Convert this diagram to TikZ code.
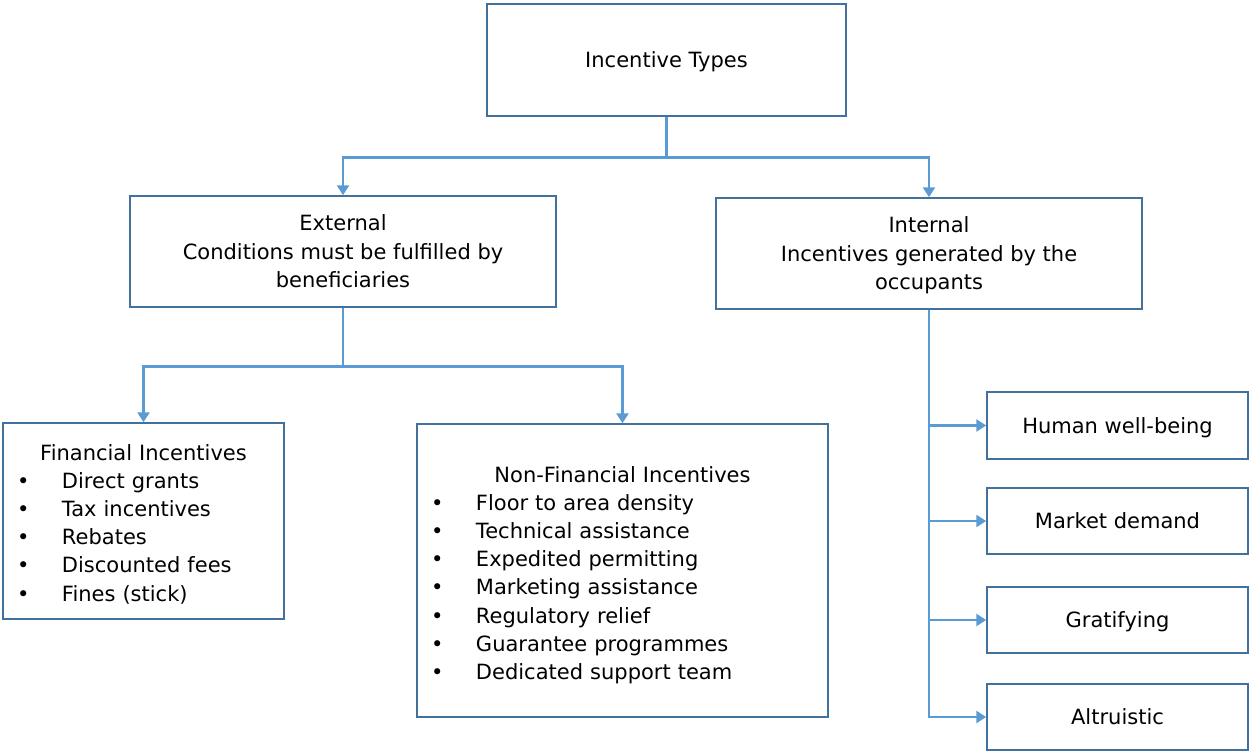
\documentclass[tikz,border=0pt]{standalone}
\usepackage{fontspec}
\setmainfont{DejaVu Sans}
\usetikzlibrary{arrows.meta}
\definecolor{boxline}{HTML}{41719C}
\definecolor{linkline}{HTML}{5B9BD5}
\tikzset{
  box/.style={draw=boxline, line width=1.5pt, fill=white, inner sep=0pt, align=center,
              font=\fontsize{21}{28.5}\selectfont},
  link/.style={draw=linkline, line width=2.8pt,
               -{Triangle[width=12pt,length=10pt]}},
  listtext/.style={inner sep=0pt, align=left, font=\fontsize{21}{28.2}\selectfont}
}
% lowers box text slightly while keeping its measured extent
\newcommand{\lowtext}[1]{\raisebox{-2pt}[\height][\depth]{\begin{tabular}{@{}c@{}}#1\end{tabular}}}
\newcommand{\itm}[1]{\hspace*{14pt}\makebox[45pt][l]{\textbullet}#1}
\begin{document}
\begin{tikzpicture}[x=1pt,y=-1pt]
\useasboundingbox (0,0) rectangle (1250,753);

% top level
\node[box, minimum width=359, minimum height=112] (top) at (666.5,60) {\lowtext{Incentive Types}};

% second level
\node[box, minimum width=426, minimum height=111] (ext) at (343,251.5)
  {\lowtext{External\\Conditions must be fulfilled by\\beneficiaries}};
\node[box, minimum width=426, minimum height=111] (int) at (929,253.5)
  {\lowtext{Internal\\Incentives generated by the\\occupants}};

% external branches
\node[box, minimum width=281, minimum height=196] (fin) at (143.5,521) {};
\node[listtext, text width=281] (fintxt) at (143.5,524)
  {\makebox[281pt][c]{Financial Incentives}\\
   \itm{Direct grants}\\
   \itm{Tax incentives}\\
   \itm{Rebates}\\
   \itm{Discounted fees}\\
   \itm{Fines (stick)}};

\node[box, minimum width=411, minimum height=293] (nonfin) at (622.5,570.5) {};
\node[listtext, text width=411] (nonfintxt) at (622.5,575)
  {\makebox[411pt][c]{Non-Financial Incentives}\\
   \itm{Floor to area density}\\
   \itm{Technical assistance}\\
   \itm{Expedited permitting}\\
   \itm{Marketing assistance}\\
   \itm{Regulatory relief}\\
   \itm{Guarantee programmes}\\
   \itm{Dedicated support team}};

% internal branches
\node[box, minimum width=261, minimum height=67] (hwb) at (1117.5,425.5) {\lowtext{Human well-being}};
\node[box, minimum width=261, minimum height=66] (mkt) at (1117.5,521) {\lowtext{Market demand}};
\node[box, minimum width=261, minimum height=66] (grt) at (1117.5,620) {\lowtext{Gratifying}};
\node[box, minimum width=261, minimum height=66] (alt) at (1117.5,717) {\lowtext{Altruistic}};

% connectors
\draw[link] (top.south) -- ++(0,41) -| (ext.north);
\draw[link] (top.south) -- ++(0,41) -| (int.north);
\draw[link] (ext.south) -- ++(0,59) -| (fin.north);
\draw[link] (ext.south) -- ++(0,59) -| (nonfin.north);
\draw[link] (int.south) |- (hwb.west);
\draw[link] (int.south) |- (mkt.west);
\draw[link] (int.south) |- (grt.west);
\draw[link] (int.south) |- (alt.west);
\end{tikzpicture}
\end{document}
